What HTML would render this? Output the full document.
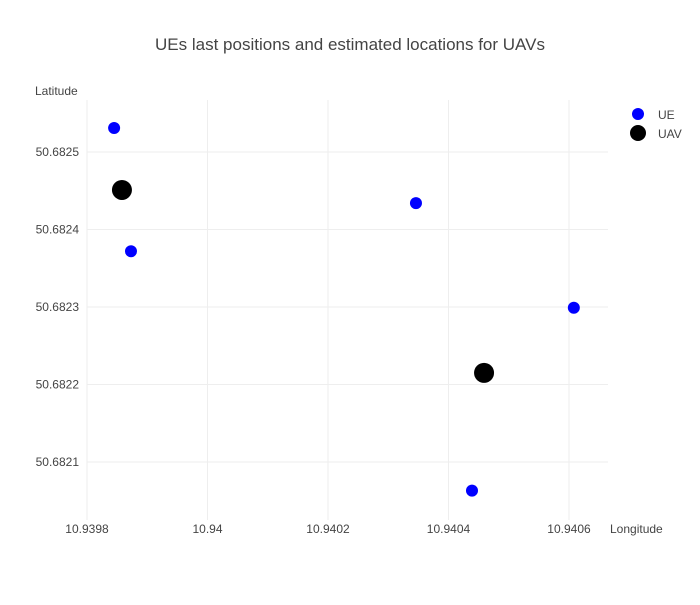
<!DOCTYPE html>
<html><head><meta charset="utf-8"><style>
body{margin:0;background:#fff;font-family:"Liberation Sans",sans-serif;}
svg text{font-family:"Liberation Sans",sans-serif;}
</style></head><body>
<svg id="chart" width="700" height="600">
<text x="350" y="50" text-anchor="middle" font-size="17" fill="#444">UEs last positions and estimated locations for UAVs</text>
<text x="35" y="95" font-size="12" fill="#444">Latitude</text>
<text x="610" y="533" font-size="12" fill="#444">Longitude</text>
<g id="grid"></g><g id="marks"></g>
<g>
<circle cx="638" cy="114" r="6" fill="#0000ff"/>
<text x="658" y="119" font-size="12" fill="#444">UE</text>
<circle cx="638" cy="133" r="8" fill="#000"/>
<text x="658" y="138" font-size="12" fill="#444">UAV</text>
</g>
</svg>
<script>
const xTicks=[10.9398,10.94,10.9402,10.9404,10.9406];
const xTickLabels=["10.9398","10.94","10.9402","10.9404","10.9406"];
const yTicks=[50.6821,50.6822,50.6823,50.6824,50.6825];
const yTickLabels=["50.6821","50.6822","50.6823","50.6824","50.6825"];
const ueLon=[10.939845,10.939873,10.940346,10.940608,10.940439];
const ueLat=[50.682531,50.682372,50.682434,50.682299,50.682063];
const uavLon=[10.939858,10.940459];
const uavLat=[50.682451,50.682215];
const NS="http://www.w3.org/2000/svg";
function xs(v){return 87+(v-10.9398)/0.0002*120.5;}
function ys(v){return 462-(v-50.6821)/0.0001*77.5;}
const grid=document.getElementById('grid'),marks=document.getElementById('marks');
function mk(t,a,p){const e=document.createElementNS(NS,t);for(const k in a)e.setAttribute(k,a[k]);p.appendChild(e);return e;}
xTicks.forEach((v,i)=>{
 const l=mk('line',{x1:xs(v),x2:xs(v),y1:100,y2:520,stroke:'#eee'},grid);
 
 
 const t=mk('text',{x:xs(v),y:533,'text-anchor':'middle','font-size':12,fill:'#444'},grid);
 t.textContent=xTickLabels[i];
 
 
});
yTicks.forEach((v,i)=>{
 const l=mk('line',{x1:87,x2:608,y1:ys(v),y2:ys(v),stroke:'#eee'},grid);
 
 
 const t=mk('text',{x:79,y:ys(v)+4,'text-anchor':'end','font-size':12,fill:'#444'},grid);
 t.textContent=yTickLabels[i];
 
 
});
ueLon.forEach((v,i)=>{
 const c=mk('circle',{cx:xs(v),cy:ys(ueLat[i]),r:6,fill:'#0000ff'},marks);
 
 
});
uavLon.forEach((v,i)=>{
 const c=mk('circle',{cx:xs(v),cy:ys(uavLat[i]),r:10,fill:'#000'},marks);
 
 
});
</script>
</body></html>
